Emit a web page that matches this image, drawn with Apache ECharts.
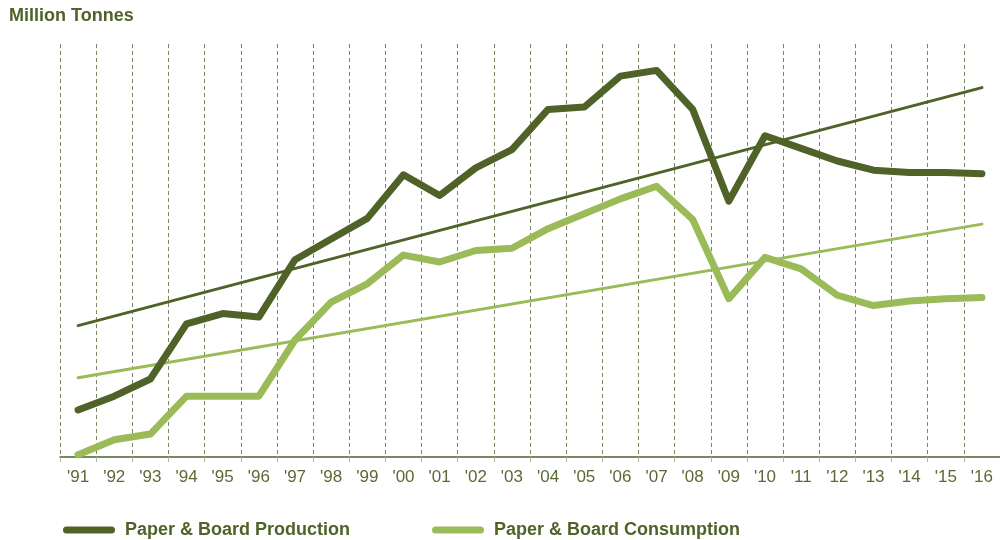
<!DOCTYPE html>
<html>
<head>
<meta charset="utf-8">
<title>Paper &amp; Board Production and Consumption</title>
<script src="https://cdn.jsdelivr.net/npm/echarts@6/dist/echarts.min.js"></script>
<style>
  html, body { margin: 0; padding: 0; background: #ffffff; }
  #chart { width: 1000px; height: 540px; }
</style>
</head>
<body>
<div id="chart"></div>
<script>
// Year labels
const years = ["'91","'92","'93","'94","'95","'96","'97","'98","'99","'00","'01","'02","'03",
               "'04","'05","'06","'07","'08","'09","'10","'11","'12","'13","'14","'15","'16"];

// Million tonnes per year
const production = [71.1, 72.3, 73.8, 78.6, 79.5, 79.2, 84.2, 86.0, 87.8, 91.6, 89.8, 92.2, 93.8,
                    97.3, 97.5, 100.2, 100.7, 97.3, 89.3, 95.0, 93.9, 92.8, 92.0, 91.8, 91.8, 91.7];
const consumption = [67.2, 68.5, 69.0, 72.3, 72.3, 72.3, 77.2, 80.5, 82.1, 84.6, 84.0, 85.0, 85.2,
                     86.9, 88.2, 89.5, 90.6, 87.7, 80.8, 84.4, 83.4, 81.1, 80.2, 80.6, 80.8, 80.9];

// Linear trend lines: values at the first and last year
const productionTrend = [78.45, 99.2];
const consumptionTrend = [73.9, 87.3];

const DARK = '#4f6228';
const LIGHT = '#9bbb59';
const FONT = 'Liberation Sans, Arial, sans-serif';

const chart = echarts.init(document.getElementById('chart'), null, { renderer: 'canvas' });

const lastIdx = years.length - 1;
const trendData = (t) => [[years[0], t[0]], [years[lastIdx], t[1]]];

// Pill-shaped legend swatch
const legendIcon = 'path://M3.5,0 H48.5 A3.5,3.5 0 0 1 48.5,7 H3.5 A3.5,3.5 0 0 1 3.5,0 Z';

chart.setOption({
  animation: false,
  backgroundColor: '#ffffff',
  title: {
    text: 'Million Tonnes',
    left: 4,
    top: 2,
    textStyle: { fontFamily: FONT, fontSize: 18, fontWeight: 'bold', color: DARK }
  },
  legend: {
    data: [
      { name: 'Paper & Board Production', icon: legendIcon, itemStyle: { color: DARK } },
      { name: 'Paper & Board Consumption', icon: legendIcon, itemStyle: { color: LIGHT } }
    ],
    left: 58,
    top: 516,
    itemWidth: 52,
    itemHeight: 7,
    itemGap: 82,
    textStyle: { fontFamily: FONT, fontSize: 18, fontWeight: 'bold', color: DARK, padding: [0, 0, 0, 5] }
  },
  grid: { left: 60, top: 44, width: 942, height: 413, containLabel: false },
  xAxis: {
    type: 'category',
    data: years,
    boundaryGap: true,
    axisLine: { show: true, lineStyle: { color: DARK, width: 1.5 } },
    axisTick: { show: true, length: 5, lineStyle: { color: '#b3b79c', width: 1 } },
    axisLabel: { margin: 12, fontFamily: FONT, fontSize: 17, color: '#5a6a34' },
    splitLine: { show: true, lineStyle: { color: '#7e8462', width: 1, type: [4, 3] } }
  },
  yAxis: {
    type: 'value',
    min: 67,
    max: 103,
    show: false,
    splitLine: { show: false }
  },
  series: [
    {
      name: 'Production trend',
      type: 'line',
      data: trendData(productionTrend),
      symbol: 'none',
      silent: true,
      lineStyle: { color: DARK, width: 3, cap: 'round' },
      z: 2
    },
    {
      name: 'Consumption trend',
      type: 'line',
      data: trendData(consumptionTrend),
      symbol: 'none',
      silent: true,
      lineStyle: { color: LIGHT, width: 3, cap: 'round' },
      z: 2
    },
    {
      name: 'Paper & Board Production',
      type: 'line',
      data: production,
      symbol: 'none',
      color: DARK,
      lineStyle: { color: DARK, width: 7, cap: 'round', join: 'round' },
      z: 3
    },
    {
      name: 'Paper & Board Consumption',
      type: 'line',
      data: consumption,
      symbol: 'none',
      color: LIGHT,
      lineStyle: { color: LIGHT, width: 7, cap: 'round', join: 'round' },
      z: 3
    }
  ]
});
</script>
</body>
</html>
